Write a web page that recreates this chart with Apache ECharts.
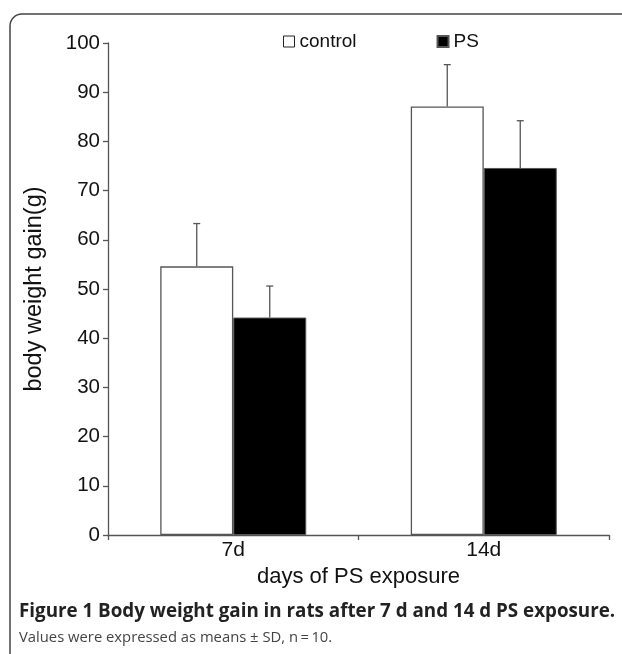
<!DOCTYPE html>
<html>
<head>
<meta charset="utf-8">
<script src="https://cdn.jsdelivr.net/npm/echarts@6/dist/echarts.min.js"></script>
<style>
html,body{margin:0;padding:0;background:#fff;}
#chart{width:622px;height:654px;}
</style>
</head>
<body>
<div id="chart"></div>
<script>
var categories = ['7d', '14d'];
var controlMean = [54.6, 87.1];
var controlSD = [8.7, 8.5];
var psMean = [44.2, 74.6];
var psSD = [6.4, 9.6];
var yTicks = [0, 10, 20, 30, 40, 50, 60, 70, 80, 90, 100];

var BAR_W = 73;
var FONT = '"Liberation Sans", Arial, sans-serif';

function errSeries(name, means, sds, dir) {
  var data = means.map(function (m, i) { return [i, m, m + sds[i]]; });
  return {
    type: 'custom',
    name: name + ' SD',
    silent: true,
    z: 5,
    data: data,
    renderItem: function (params, api) {
      var lo = api.coord([api.value(0), api.value(1)]);
      var hi = api.coord([api.value(0), api.value(2)]);
      var x = lo[0] + dir * BAR_W / 2;
      var st = { stroke: '#555', lineWidth: 1.3 };
      return {
        type: 'group',
        children: [
          { type: 'line', shape: { x1: x, y1: lo[1], x2: x, y2: hi[1] }, style: st },
          { type: 'line', shape: { x1: x - 3.5, y1: hi[1], x2: x + 3.5, y2: hi[1] }, style: st }
        ]
      };
    }
  };
}

var chart = echarts.init(document.getElementById('chart'), null, { renderer: 'canvas' });
chart.setOption({
  backgroundColor: '#fff',
  animation: false,
  textStyle: { fontFamily: FONT },
  grid: { left: 108, right: 13, top: 43, bottom: 119 },
  legend: {
    left: 283, top: 32, padding: 0, itemGap: 80,
    itemWidth: 11, itemHeight: 11, icon: 'rect',
    textStyle: { fontSize: 19, color: '#111', fontFamily: FONT },
    data: [
      { name: 'control', itemStyle: { color: '#fff', borderColor: '#222', borderWidth: 1 } },
      { name: 'PS', itemStyle: { color: '#000' } }
    ]
  },
  xAxis: {
    type: 'category',
    data: categories,
    name: 'days of PS exposure',
    nameLocation: 'middle',
    nameGap: 30,
    nameTextStyle: { fontSize: 22, color: '#111', fontFamily: FONT },
    axisLine: { lineStyle: { color: '#555', width: 1.3 } },
    axisTick: { show: true, alignWithLabel: false, length: 5, lineStyle: { color: '#555', width: 1.3 } },
    axisLabel: { fontSize: 21, color: '#111', margin: 5, fontFamily: FONT }
  },
  yAxis: {
    type: 'value',
    min: yTicks[0], max: yTicks[yTicks.length - 1], interval: 10,
    name: 'body weight gain(g)',
    nameLocation: 'middle',
    nameGap: 61,
    nameTextStyle: { fontSize: 23.5, color: '#111', fontFamily: FONT },
    axisLine: { show: true, lineStyle: { color: '#555', width: 1.3 } },
    axisTick: { show: true, length: 5, lineStyle: { color: '#555', width: 1.3 } },
    axisLabel: { fontSize: 20.5, color: '#111', margin: 8, fontFamily: FONT },
    splitLine: { show: false }
  },
  series: [
    {
      name: 'control', type: 'bar', data: controlMean, barWidth: BAR_W, barGap: '0%',
      itemStyle: { color: '#fff', borderColor: '#555', borderWidth: 1.3 }
    },
    {
      name: 'PS', type: 'bar', data: psMean, barWidth: BAR_W, barGap: '0%',
      itemStyle: { color: '#000', borderColor: '#555', borderWidth: 1 }
    },
    errSeries('control', controlMean, controlSD, -1),
    errSeries('PS', psMean, psSD, 1)
  ],
  graphic: [
    {
      type: 'rect', silent: true, z: -1,
      shape: { x: 10, y: 14, width: 700, height: 700, r: [12, 0, 0, 0] },
      style: { fill: 'none', stroke: '#444', lineWidth: 1.5 }
    },
    {
      type: 'text', left: 19, top: 602,
      style: { text: 'Figure 1 Body weight gain in rats after 7 d and 14 d PS exposure.',
        font: 'bold 18.8px "Open Sans", sans-serif', fill: '#222' }
    },
    {
      type: 'text', left: 19, top: 630,
      style: { text: 'Values were expressed as means \u00b1 SD, n\u2009=\u200910.',
        font: '14.8px "Open Sans", sans-serif', fill: '#444' }
    }
  ]
});
</script>
</body>
</html>
